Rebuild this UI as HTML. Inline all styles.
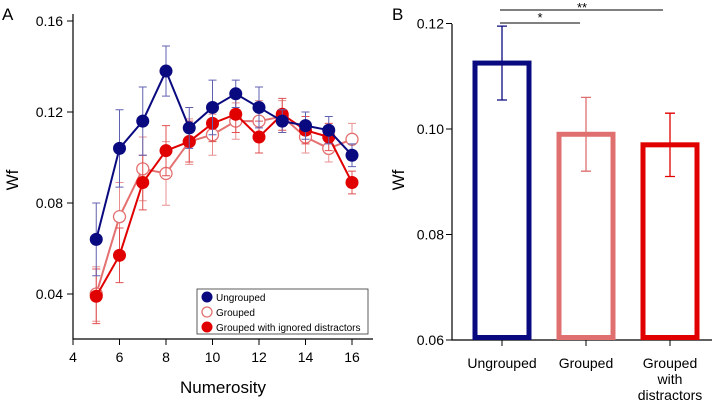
<!DOCTYPE html>
<html><head><meta charset="utf-8"><style>
body{margin:0;background:#fff}
svg{display:block;font-family:"Liberation Sans",Arial,sans-serif}
</style></head><body>
<svg id="c" width="714" height="408" viewBox="0 0 714 408"></svg>
<script>
const xs=[5,6,7,8,9,10,11,12,13,14,15,16];
const ungrouped=[0.064,0.104,0.116,0.138,0.113,0.122,0.128,0.122,0.116,0.114,0.112,0.101];
const ungroupedErr=[0.016,0.017,0.015,0.011,0.009,0.012,0.006,0.009,0.005,0.006,0.006,0.005];
const grouped=[0.040,0.074,0.095,0.093,0.107,0.110,0.116,0.116,0.118,0.109,0.104,0.108];
const groupedErr=[0.012,0.015,0.014,0.014,0.010,0.009,0.008,0.009,0.007,0.007,0.006,0.007];
const distract=[0.039,0.057,0.089,0.103,0.107,0.115,0.119,0.109,0.119,0.112,0.109,0.089];
const distractErr=[0.012,0.012,0.012,0.011,0.009,0.008,0.008,0.007,0.007,0.006,0.006,0.005];
const xTicks=[4,6,8,10,12,14,16];
const yTicksA=[0.04,0.08,0.12,0.16];
const barCats=["Ungrouped","Grouped","Grouped with distractors"];
const barVals=[0.1125,0.099,0.097];
const barErr=[0.007,0.007,0.006];
const yTicksB=[0.06,0.08,0.10,0.12];

const S=document.getElementById('c');const NS='http://www.w3.org/2000/svg';
function el(t,a,p){const e=document.createElementNS(NS,t);for(const k in a)e.setAttribute(k,a[k]);(p||S).appendChild(e);return e;}
function tx(s,x,y,size,anchor,name){const e=el('text',{x:x,y:y,'font-size':size,'text-anchor':anchor||'start',fill:'#000'});e.textContent=s;

return e;}
// Panel A
const ax=x=>73+(x-4)*23.25;
const ay=v=>294-(v-0.04)/0.04*91;
let l=el('path',{d:`M73,14V339H373`,stroke:'#000','stroke-width':1.2,fill:'none'});


xTicks.forEach(t=>{el('line',{x1:ax(t),x2:ax(t),y1:339,y2:345,stroke:'#000'});tx(String(t),ax(t),362,14,'middle','x-tick-label');});
yTicksA.forEach(t=>{el('line',{x1:67,x2:73,y1:ay(t),y2:ay(t),stroke:'#000'});tx(t.toFixed(2),63,ay(t)+5,14,'end','y-tick-label');});
tx('Numerosity',223,393,17,'middle','x-axis-title');
let yt=tx('Wf',0,0,17,'middle','y-axis-title');yt.setAttribute('transform','translate(18,180) rotate(-90)');
tx('A',2,20,17,'start','panel-a-label');
function series(vals,errs,col,errCol,fill,name){
  const g=el('g',{});
  
  
  xs.forEach((x,i)=>{const X=ax(x),t=ay(vals[i]+errs[i]),b=ay(vals[i]-errs[i]);
    el('path',{d:`M${X},${t}V${b}M${X-4},${t}H${X+4}M${X-4},${b}H${X+4}`,stroke:errCol,'stroke-width':1,fill:'none'},g);});
  el('polyline',{points:xs.map((x,i)=>ax(x)+','+ay(vals[i])).join(' '),stroke:col,'stroke-width':2,fill:'none'},g);
  xs.forEach((x,i)=>{const c=el('circle',{cx:ax(x),cy:ay(vals[i]),r:fill?6.5:6,fill:fill?col:'#fff',stroke:col,'stroke-width':fill?0:1.3},g);
    
    });
}
series(grouped,groupedErr,'#e47070','#e89090',false,'series-grouped');
series(distract,distractErr,'#e00000','#e05050',true,'series-distractors');
series(ungrouped,ungroupedErr,'#0a0a80','#6060b0',true,'series-ungrouped');
// legend
const lg=el('g',{});


el('rect',{x:197,y:289,width:171,height:45,fill:'#fff',stroke:'#333','stroke-width':0.8},lg);
[['Ungrouped','#0a0a80',1],['Grouped','#e47070',0],['Grouped with ignored distractors','#e00000',1]].forEach((d,i)=>{
  const y=297+i*15;
  el('circle',{cx:207,cy:y,r:d[2]?5.5:5,fill:d[2]?d[1]:'#fff',stroke:d[1],'stroke-width':d[2]?0:1.3},lg);
  const t=tx(d[0],216,y+4,10,'start','legend-entry');lg.appendChild(t);
});
// Panel B
const bx=i=>502+i*84;
const by=v=>340-(v-0.06)/0.02*105.5;
l=el('path',{d:`M452,24V340H712`,stroke:'#000','stroke-width':1.2,fill:'none'});


yTicksB.forEach(t=>{el('line',{x1:446,x2:452,y1:by(t),y2:by(t),stroke:'#000'});tx(t.toFixed(2),444,by(t)+5,14,'end','y-tick-label');});
let yt2=tx('Wf',0,0,17,'middle','y-axis-title-b');yt2.setAttribute('transform','translate(404,180) rotate(-90)');
tx('B',392,20,17,'start','panel-b-label');
const cols=['#0a0a80','#e07070','#e00000'];
barCats.forEach((c,i)=>{
  const X=bx(i),top=by(barVals[i]);
  const r=el('rect',{x:X-27,y:top,width:54,height:337.5-top,fill:'#fff',stroke:cols[i],'stroke-width':5});
  
  
  const t=by(barVals[i]+barErr[i]),b=by(barVals[i]-barErr[i]);
  el('path',{d:`M${X},${t}V${b}M${X-5},${t}H${X+5}M${X-5},${b}H${X+5}`,stroke:cols[i],'stroke-width':1.3,fill:'none'});
  el('line',{x1:X,x2:X,y1:340,y2:346,stroke:'#000'});
  const words=i===2?['Grouped','with','distractors']:[c];
  words.forEach((w,j)=>tx(w,X,368+j*16,14,'middle','category-label'));
});
el('line',{x1:500,x2:580,y1:23,y2:23,stroke:'#000','stroke-width':1});
tx('*',540,22,13,'middle','sig-star-1');
el('line',{x1:500,x2:663,y1:10,y2:10,stroke:'#000','stroke-width':1});
tx('**',582,12,13,'middle','sig-star-2');
</script>
</body></html>
